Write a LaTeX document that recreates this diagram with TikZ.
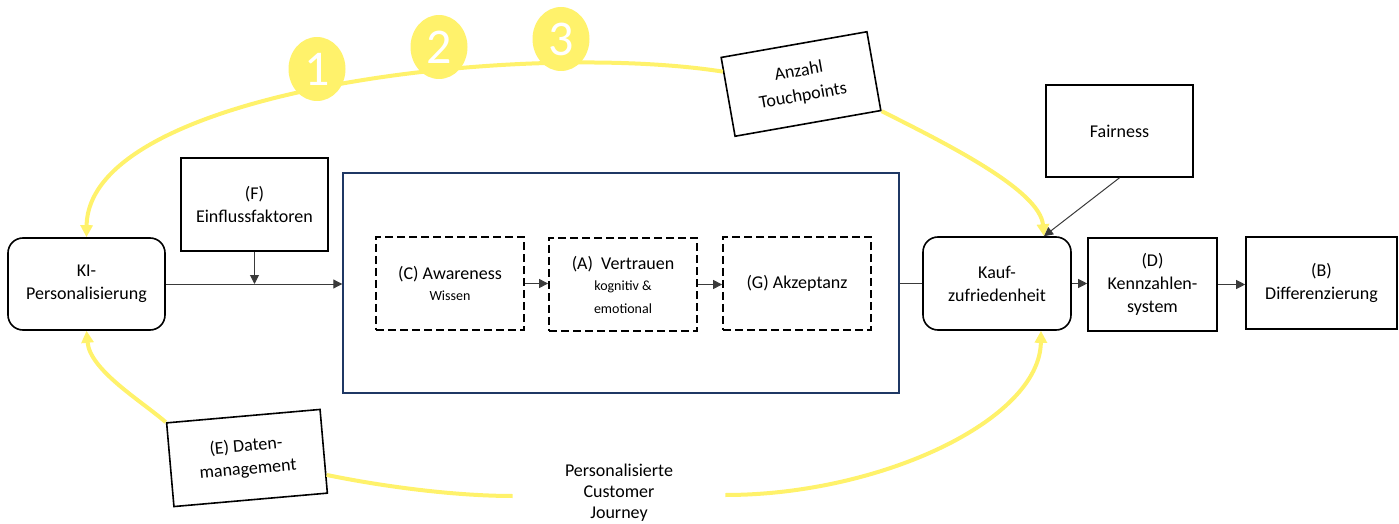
\documentclass[tikz,border=0pt]{standalone}
\usepackage{fontspec}
\setmainfont{Carlito}
\usetikzlibrary{arrows.meta,shapes.geometric,calc}
\definecolor{jyellow}{HTML}{FFF26B}
\definecolor{navy}{HTML}{1F3864}
\definecolor{conn}{HTML}{3A3A3A}
\tikzset{
  x=0.5pt, y=-0.5pt,
  txt/.style={font=\fontsize{9}{11.5}\selectfont, align=center, inner sep=0pt},
  plainbox/.style={txt, draw=black, line width=0.8pt},
  roundbox/.style={plainbox, rounded corners=7.5pt},
  dashbox/.style={txt, draw=black, line width=0.9pt, dash pattern=on 4pt off 2pt},
  stepnum/.style={ellipse, fill=jyellow, minimum width=28.5pt, minimum height=32pt, inner sep=0pt,
    text=white, font=\fontsize{25}{25}\selectfont},
  flow/.style={draw=conn, line width=0.5pt, -{Triangle[length=4.5pt,width=4.5pt]}},
  plainflow/.style={draw=conn, line width=0.5pt},
  journeyline/.style={draw=jyellow, line width=2pt},
  journeyarrow/.style={journeyline, -{Triangle[length=6pt,width=6pt]}},
}
\begin{document}
\begin{tikzpicture}
\useasboundingbox (0,0) rectangle (1399,524);

% main process chain
\node[roundbox, minimum width=78.5pt, minimum height=46pt] (ki) at (86.5,284) {KI-\\Personalisierung};
\node[plainbox, minimum width=73.5pt, minimum height=46.5pt] (f) at (254.5,204.5) {(F)\\Einflussfaktoren};
\node[draw=navy, line width=0.7pt, minimum width=278pt, minimum height=110pt, inner sep=0pt] (big) at (621,283) {};
\node[dashbox, minimum width=74pt, minimum height=46.5pt] (c) at (450,283.5)
  {(C) Awareness\\[-1pt]{\fontsize{7}{9}\selectfont Wissen}};
\node[dashbox, minimum width=74pt, minimum height=46.5pt] (a) at (623,284.5)
  {(A)\ \ Vertrauen\\[-1pt]{\fontsize{7}{8.5}\selectfont kognitiv \&}\\{\fontsize{7}{8.5}\selectfont emotional}};
\node[dashbox, minimum width=74pt, minimum height=46.5pt] (g) at (797,283.5) {(G) Akzeptanz};
\node[roundbox, minimum width=74pt, minimum height=46.5pt] (kauf) at (997,283.5) {Kauf-\\zufriedenheit};
\node[plainbox, minimum width=64.5pt, minimum height=46.5pt] (d) at (1152.5,284.5) {(D)\\Kennzahlen-\\system};
\node[plainbox, minimum width=75.5pt, minimum height=46pt] (b) at (1321.5,283) {(B)\\Differenzierung};
\node[plainbox, minimum width=73.5pt, minimum height=46pt] (fair) at (1119.5,131) {Fairness};

% tilted boxes on the journey loop
\node[plainbox, font=\fontsize{9}{12.5}\selectfont, rotate=10, minimum width=74pt, minimum height=40pt] (tp) at (801,84) {Anzahl\\Touchpoints};
\node[plainbox, rotate=5, minimum width=77pt, minimum height=42pt] (e) at (247,458) {(E) Daten-\\management};
\node[txt, font=\fontsize{9}{10.5}\selectfont, minimum width=106pt] (journey) at (619,493) {Personalisierte\\Customer\\Journey};

% entry points on the purchase node
\coordinate (kin) at ($(kauf.north)+(47,0)$);
\coordinate (kout) at ($(kauf.south)+(44,0)$);

% yellow customer-journey loop
\draw[journeyarrow] (tp.161) .. controls (520,40) and (88,90) .. (ki.north);
\draw[journeyarrow] (tp.south east) .. controls (945,143) and (1040,190) .. (kin);
\draw[journeyarrow] (e.north west) .. controls (140,400) and (90,370) .. (ki.south);
\draw[journeyline] (e.343) .. controls (390,488) and (460,496) .. ([yshift=-1.5pt]journey.west);
\draw[journeyarrow] ([yshift=-1pt]journey.east) .. controls (880,495) and (1040,420) .. (kout);

% numbered steps
\node[stepnum] (n1) at (317,69) {1};
\node[stepnum] (n2) at (439,47) {2};
\node[stepnum] (n3) at (561,39) {3};

% black connectors
\draw[flow] (ki.east) -- (ki.east -| big.west);
\draw[flow] (f.south) -- (f.south |- ki.east);
\draw[flow] (c.east) -- (c.east -| a.west);
\draw[flow] (a.east) -- (a.east -| g.west);
\draw[plainflow] (big.east) -- (big.east -| kauf.west);
\draw[flow] (kauf.east) -- (kauf.east -| d.west);
\draw[flow] (d.east) -- (d.east -| b.west);
\draw[flow] (fair.south) -- (kin);
\end{tikzpicture}
\end{document}
